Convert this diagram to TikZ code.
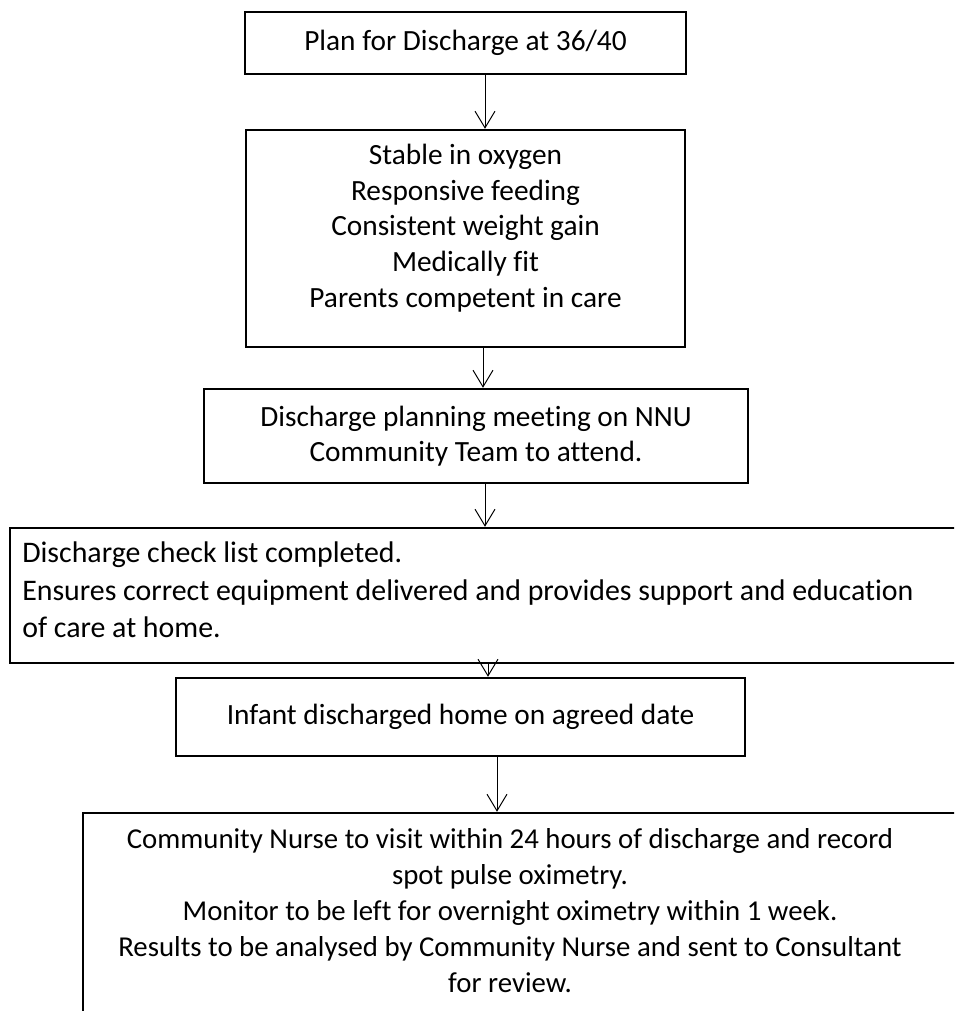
\documentclass[tikz,border=0pt]{standalone}
\usepackage{fontspec}
\setmainfont{Carlito}[Ligatures={NoCommon}]
\usetikzlibrary{arrows.meta}
\begin{document}
\begin{tikzpicture}[x=0.75pt,y=-0.75pt,
  box/.style={draw, line width=1.8pt, rectangle, inner sep=0pt, align=center,
    font=\fontsize{22}{26.7}\selectfont},
  txt/.style={inner sep=0pt, font=\fontsize{22}{27.5}\selectfont},
  arr/.style={-{Straight Barb[length=12.5pt,width=15pt]}, line width=0.75pt}]
\useasboundingbox (0,0) rectangle (954,1011);
\clip (0,0) rectangle (954,1011);
\fill[white] (0,0) rectangle (954,1011);
% boxes
\node[box, minimum width=330.75pt, minimum height=46.5pt] (b1) at (465.5,43) {Plan for Discharge at 36/40};
\node[box, minimum width=329.25pt, minimum height=162.75pt] (b2) at (465.5,238.5) {};
\node[txt, align=center, font=\fontsize{22}{26.7}\selectfont] (t2) at (465.5,228) {Stable in oxygen\\Responsive feeding\\Consistent weight gain\\Medically fit\\Parents competent in care};
\node[box, minimum width=408pt, minimum height=70.5pt] (b3) at (476,436) {\raisebox{6pt}{\parbox{400pt}{\centering Discharge planning meeting on NNU\\Community Team to attend.}}};
\node[box, minimum width=720pt, minimum height=101.25pt] (b4) at (490,595.5) {};
\node[txt, align=left, anchor=west, font=\fontsize{22.4}{28}\selectfont] (t4) at (22,590) {Discharge check list completed.\\Ensures correct equipment delivered and provides support and education\\of care at home.};
\node[box, minimum width=426.75pt, minimum height=58.5pt] (b5) at (460.5,717) {Infant discharged home on agreed date};
\node[box, minimum width=665.25pt, minimum height=162.75pt] (b6) at (526.5,921.5) {};
\node[txt, align=center, font=\fontsize{21.6}{27}\selectfont] (t6) at (510,911) {Community Nurse to visit within 24 hours of discharge and record\\spot pulse oximetry.\\Monitor to be left for overnight oximetry within 1 week.\\Results to be analysed by Community Nurse and sent to Consultant\\for review.};
% connectors
\draw[arr] (b1.south -| 485,0) -- (b2.north -| 485,0);
\draw[arr] (b2.south -| 483,0) -- (b3.north -| 483,0);
\draw[arr] (b3.south -| 485,0) -- (b4.north -| 485,0);
\draw[arr] (b4.south -| 488,0) -- (b5.north -| 488,0);
\draw[arr] (b5.south -| 497,0) -- (b6.north -| 497,0);
\end{tikzpicture}
\end{document}
